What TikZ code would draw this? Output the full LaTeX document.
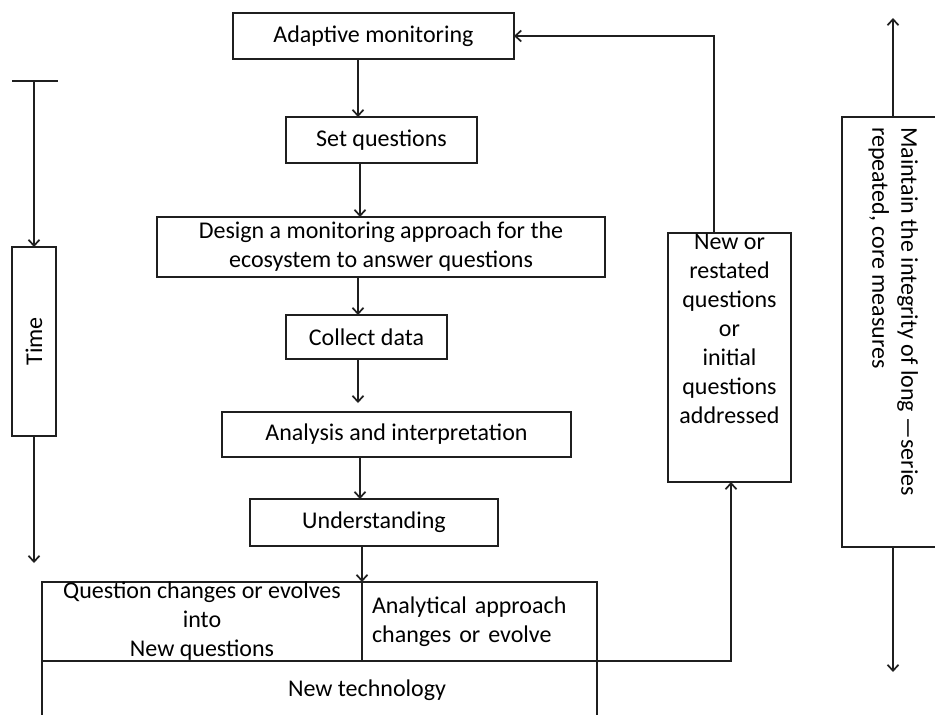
\documentclass[tikz,border=0pt]{standalone}
\usepackage{fontspec}
\setmainfont{Carlito}
\usetikzlibrary{arrows.meta}
\begin{document}
\begin{tikzpicture}[x=1pt,y=-1pt,
  every node/.style={font=\fontsize{24}{29}\selectfont, inner sep=0pt, outer sep=0pt, text=black},
  box/.style={draw=black!88, line width=1.8pt, rectangle, align=center},
  flow/.style={draw=black!88, line width=1.8pt, -{Straight Barb[length=6pt,width=11pt,line width=1.7pt]}},
  plain/.style={draw=black!88, line width=1.8pt}
]
\clip (0,0) rectangle (935,715);
\useasboundingbox (0,0) rectangle (935,715);

% main column
\node[box, minimum width=281pt, minimum height=46pt] (adapt) at (373.5,36) {Adaptive monitoring};
\node[box, minimum width=191pt, minimum height=46pt] (setq) at (381.5,140) {Set questions};
\node[box, minimum width=448pt, minimum height=60pt] (design) at (381,247)
  {Design a monitoring approach for the\\ecosystem to answer questions};
\node[box, minimum width=161pt, minimum height=44pt] (collect) at (366.5,337) {Collect data};
\node[box, minimum width=349pt, minimum height=45pt] (analysis) at (396.5,434.5) {Analysis and interpretation};
\node[box, minimum width=248pt, minimum height=47pt] (underst) at (374,522.5) {Understanding};

% bottom block
\node[box, minimum width=320pt, minimum height=79pt] (qchange) at (202,621.5)
  {Question changes or evolves\\into\\New questions};
\node[box, minimum width=235pt, minimum height=79pt, text width=215pt, align=left] (analyt) at (479.5,621.5)
  {Analytical approach\\changes or evolve};
\node[box, minimum width=555pt, minimum height=69pt] (newtech) at (319.5,695.5) {};
\node (ntlabel) at (367,690) {New technology};

% feedback box
\node[box, minimum width=123pt, minimum height=249pt] (newq) at (729.5,357.5) {};
\node[anchor=north, align=center] (newqtext) at (729.5,234)
  {New or\\restated\\questions\\or\\initial\\questions\\addressed};

% time axis
\node[box, rotate=90, minimum width=189pt, minimum height=44pt] (timebox) at (34,341.5) {Time};
\coordinate (ttop) at (34,81);
\coordinate (tbarL) at (12,81);
\coordinate (tbarR) at (58,81);
\coordinate (tend) at (34,563);
\draw[plain] (tbarL) -- (tbarR);
\draw[flow] (ttop) -- (timebox.east);
\draw[flow] (timebox.west) -- (tend);

% long-series axis
\node[box, anchor=north west, minimum width=110pt, minimum height=430pt] (integ) at (842,117) {};
\node[rotate=-90, anchor=north west, align=left] (integtext) at (918,127)
  {Maintain the integrity of long —series\\repeated, core measures};
\coordinate (itop) at (893,18);
\coordinate (ibot) at (893,672);
\draw[flow] (itop |- integ.north) -- (itop);
\draw[flow] (itop |- integ.south) -- (ibot);

% flow arrows
\coordinate (c1) at (358,0);
\coordinate (c2) at (360,0);
\coordinate (c3) at (358,0);
\coordinate (c4) at (358,0);
\coordinate (c5) at (360,0);
\coordinate (c6) at (362,0);
\draw[flow] (c1 |- adapt.south) -- (c1 |- setq.north);
\draw[flow] (c2 |- setq.south) -- (c2 |- design.north);
\draw[flow] (c3 |- design.south) -- (c3 |- collect.north);
\draw[flow, shorten >=9pt] (c4 |- collect.south) -- (c4 |- analysis.north);
\draw[flow] (c5 |- analysis.south) -- (c5 |- underst.north);
\draw[flow] (c6 |- underst.south) -- (c6 |- qchange.north);

% feedback loop
\coordinate (fb) at (731,0);
\coordinate (fb2) at (714,0);
\draw[flow] (analyt.south east) -| (fb |- newq.south);
\draw[flow] (fb2 |- newq.north) |- (adapt.east);
\end{tikzpicture}
\end{document}
